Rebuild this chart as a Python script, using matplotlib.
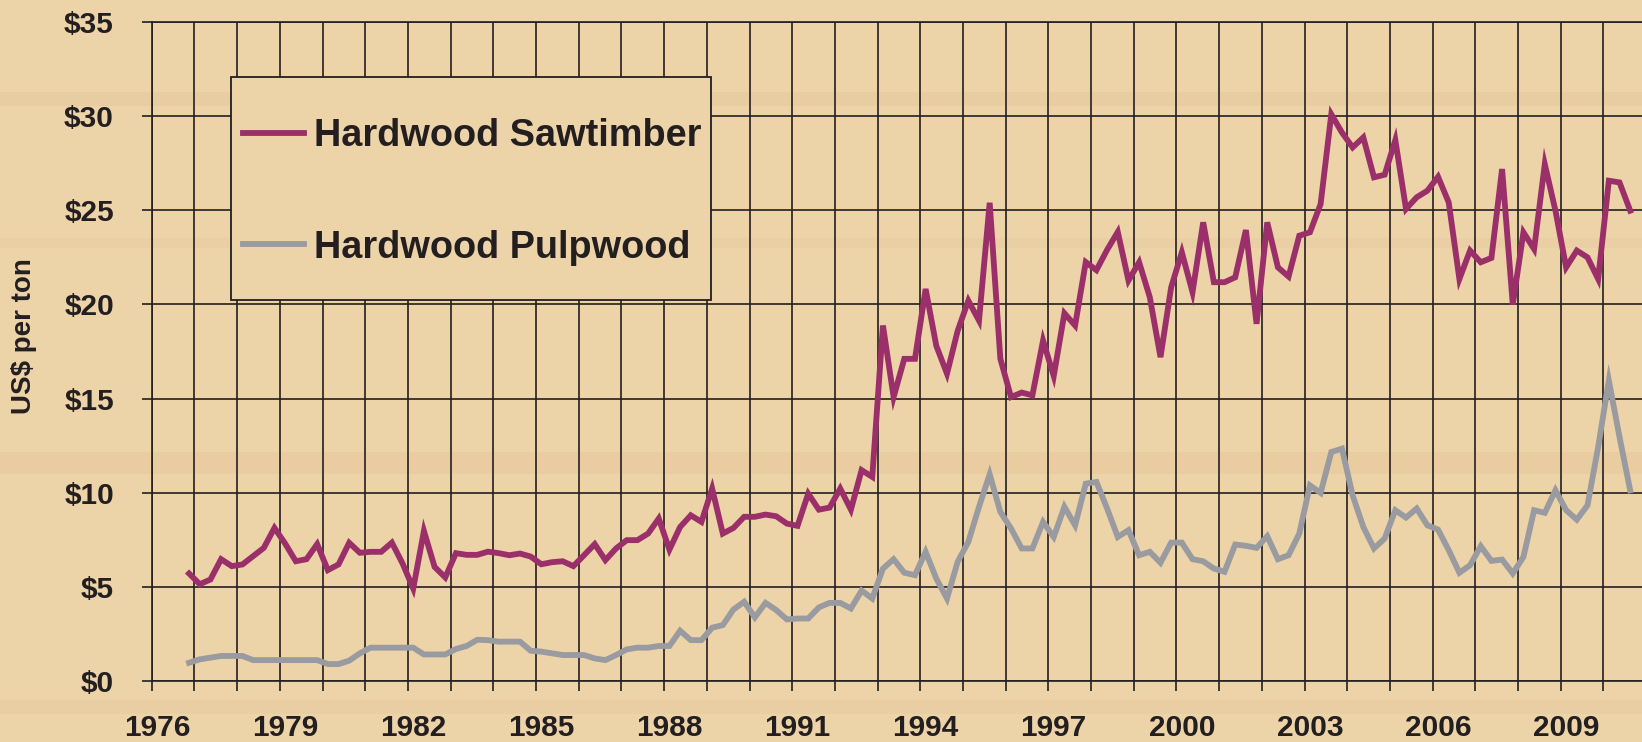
import numpy as np
import matplotlib
matplotlib.use("Agg")
import matplotlib.pyplot as plt
from matplotlib.patches import Rectangle

# quarterly prices, first value is 1976 Q4
first_year = 1976
first_quarter = 4
sawtimber = [5.71, 5.14, 5.39, 6.47, 6.10, 6.19, 6.63, 7.07, 8.13, 7.30, 6.36, 6.47, 7.27,
             5.89, 6.19, 7.34, 6.81, 6.86, 6.86, 7.35, 6.24, 4.91, 7.97, 6.06, 5.50, 6.79,
             6.70, 6.70, 6.87, 6.79, 6.68, 6.77, 6.61, 6.20, 6.31, 6.36, 6.10, 6.68, 7.27,
             6.42, 7.04, 7.48, 7.48, 7.83, 8.63, 6.98, 8.18, 8.80, 8.45, 10.22, 7.83, 8.13,
             8.72, 8.72, 8.84, 8.75, 8.36, 8.24, 9.95, 9.10, 9.21, 10.22, 9.10, 11.20, 10.84,
             18.88, 15.08, 17.11, 17.11, 20.82, 17.80, 16.32, 18.60, 20.20, 19.14, 25.40,
             17.11, 15.08, 15.32, 15.17, 18.08, 16.20, 19.53, 18.88, 22.25, 21.82, 22.90,
             23.85, 21.27, 22.24, 20.38, 17.20, 20.91, 22.77, 20.65, 24.36, 21.18, 21.18,
             21.44, 23.95, 18.97, 24.36, 21.97, 21.48, 23.65, 23.83, 25.33, 30.10, 29.13,
             28.34, 28.87, 26.75, 26.89, 28.73, 25.07, 25.69, 26.04, 26.78, 25.42, 21.35,
             22.86, 22.24, 22.47, 27.19, 19.99, 23.83, 22.94, 27.45, 24.98, 21.97, 22.86,
             22.50, 21.35, 26.57, 26.48, 24.98]
pulpwood = [0.97, 1.15, 1.24, 1.33, 1.33, 1.33, 1.11, 1.11, 1.11, 1.11, 1.11, 1.11, 1.11,
            0.90, 0.90, 1.08, 1.47, 1.77, 1.77, 1.77, 1.77, 1.77, 1.41, 1.41, 1.41, 1.70,
            1.86, 2.19, 2.17, 2.09, 2.09, 2.09, 1.61, 1.56, 1.47, 1.38, 1.38, 1.38, 1.20,
            1.11, 1.38, 1.68, 1.77, 1.77, 1.86, 1.86, 2.67, 2.17, 2.17, 2.83, 2.97, 3.80,
            4.21, 3.38, 4.15, 3.77, 3.27, 3.32, 3.32, 3.91, 4.15, 4.15, 3.85, 4.80, 4.38,
            5.97, 6.47, 5.75, 5.62, 6.86, 5.44, 4.38, 6.33, 7.39, 9.25, 10.98, 8.98, 8.10,
            7.04, 7.04, 8.45, 7.65, 9.25, 8.27, 10.48, 10.57, 9.16, 7.65, 8.01, 6.68, 6.86,
            6.28, 7.35, 7.35, 6.47, 6.36, 5.97, 5.80, 7.25, 7.18, 7.07, 7.69, 6.47, 6.68,
            7.83, 10.39, 9.99, 12.16, 12.34, 9.86, 8.18, 7.04, 7.57, 9.07, 8.68, 9.16, 8.27,
            8.04, 6.95, 5.75, 6.15, 7.16, 6.38, 6.45, 5.71, 6.59, 9.07, 8.93, 10.13, 9.07,
            8.57, 9.33, 12.43, 15.96, 12.96, 10.13]
label_years = list(range(1976, 2010, 3))
y_ticks = [0, 5, 10, 15, 20, 25, 30, 35]
y_labels = ['$' + str(v) for v in y_ticks]

BG = '#EDD3A8'
STREAK = '#DDB88A'
INK = '#231F20'
SAW = '#9B2F69'
PULP = '#999BA0'
plt.rcParams['font.family'] = ['Liberation Sans', 'DejaVu Sans']
plt.rcParams['font.weight'] = 'bold'

# quarter midpoints in decimal years
n = len(sawtimber)
x = first_year + (np.arange(n) + first_quarter - 1 + 0.5) / 4

fig = plt.figure(figsize=(16.42, 7.42), dpi=100, facecolor=BG)

# faint wood-grain streaks in the background
for top, h, a in [(92, 14, 0.2), (238, 10, 0.12), (452, 22, 0.22), (700, 14, 0.15)]:
    fig.patches.append(Rectangle((0, 1 - (top + h)/742), 1, h/742, transform=fig.transFigure,
                                 facecolor=STREAK, edgecolor='none', alpha=a, zorder=-5))

ax = fig.add_axes([151.7/1642, 61/742, 1490.3/1642, 659/742])
ax.set_facecolor('none')

ax.plot(x, sawtimber, color=SAW, lw=4.2, solid_joinstyle='miter', label='Hardwood Sawtimber', zorder=3)
ax.plot(x, pulpwood, color=PULP, lw=4.2, solid_joinstyle='miter', label='Hardwood Pulpwood', zorder=3)

ax.set_xlim(1976, 1976 + 1490.3/42.7)
ax.set_ylim(0, 35)

ax.set_xticks(np.arange(1976, 2011))
ax.set_xticklabels([])
ax.set_xticks([yr + 0.125 for yr in label_years], minor=True)
ax.set_xticklabels([str(yr) for yr in label_years], minor=True)
ax.set_yticks(y_ticks)
ax.set_yticklabels(y_labels)

ax.tick_params(axis='x', which='major', length=7.2, width=1.2, color=INK)
ax.tick_params(axis='x', which='minor', length=0, pad=24, labelsize=21.5, labelcolor=INK)
ax.tick_params(axis='y', length=7.2, width=1.2, color=INK, pad=20, labelsize=21.5, labelcolor=INK)

ax.grid(True, which='major', color=INK, lw=1.2)
ax.set_axisbelow(True)
for side in ['left', 'bottom', 'top']:
    ax.spines[side].set_color(INK)
    ax.spines[side].set_linewidth(1.2)
ax.spines['right'].set_visible(False)

fig.text(24/1642, 1 - 336/742, 'US$ per ton', rotation=90, fontsize=20,
         fontweight='bold', color=INK, ha='center', va='center')

# legend box
box = Rectangle((231/1642, 1 - 300/742), 480/1642, 223/742, transform=fig.transFigure,
                facecolor=BG, edgecolor=INK, lw=1.3, zorder=4, clip_on=False)
ax.add_patch(box)
leg = ax.legend(loc='center left', bbox_to_anchor=(243/1642, 1 - 192/742),
                bbox_transform=fig.transFigure, frameon=False, fontsize=27.3,
                handlelength=1.61, handletextpad=0.26, labelspacing=1.98,
                borderpad=0, borderaxespad=0)
leg.set_zorder(5)
for t in leg.get_texts():
    t.set_color(INK)
    t.set_fontweight('bold')

fig.savefig('out.png', dpi=100, facecolor=BG)
